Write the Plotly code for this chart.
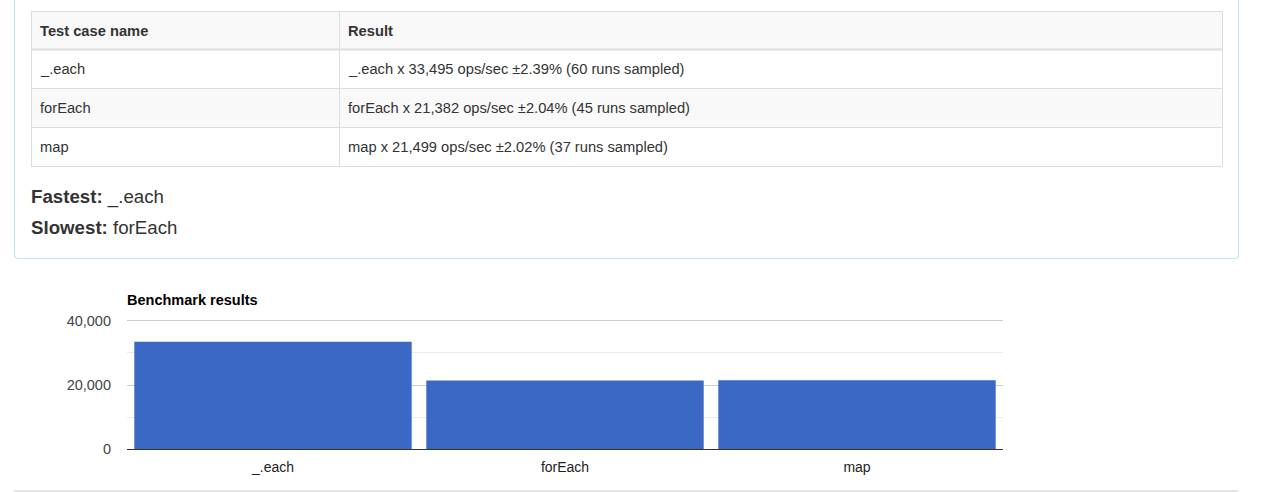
import plotly.graph_objects as go

# ---- data ----
names = ["_.each", "forEach", "map"]
ops_per_sec = [33495, 21382, 21499]
rme_pct = [2.39, 2.04, 2.02]
runs_sampled = [60, 45, 37]
y_tick_vals = [0, 20000, 40000]
y_tick_text = ["0", "20,000", "40,000"]
header_labels = ["Test case name", "Result"]
chart_title = "Benchmark results"

W, H = 1280, 492
FONT = "Liberation Sans, Arial, Helvetica, sans-serif"


def px(x):
    return x / W


def py(y):
    return 1 - y / H


results = [f"{n} x {o:,} ops/sec \u00b1{r:.2f}% ({s} runs sampled)"
           for n, o, r, s in zip(names, ops_per_sec, rme_pct, runs_sampled)]
fastest = names[ops_per_sec.index(max(ops_per_sec))]
slowest = names[ops_per_sec.index(min(ops_per_sec))]

fig = go.Figure()

# ---- bar chart ----
fig.add_trace(go.Bar(
    x=names, y=ops_per_sec, marker=dict(color="#3c68c5", line=dict(width=0)),
    hoverinfo="x+y", showlegend=False,
))

# axis geometry: zero at y=449, 40,000 gridline at y=320.8; a little headroom
# above the top tick so its gridline is drawn inside the plot area
y_max = 40400
zero_px, top_tick_px = 449.3, 320.8
top_px = zero_px - (zero_px - top_tick_px) * y_max / y_tick_vals[-1]

fig.update_layout(
    width=W, height=H, autosize=False, showlegend=False,
    margin=dict(l=0, r=0, t=0, b=0, pad=0, autoexpand=False),
    paper_bgcolor="white", plot_bgcolor="white",
    bargap=0.05,
    font=dict(family=FONT, color="#444444"),
    xaxis=dict(domain=[px(127), px(1003)], showline=True, linecolor="#333333",
               linewidth=1, showgrid=False, ticks="", ticklabelstandoff=5,
               automargin=False, zeroline=False,
               tickfont=dict(size=14, color="#222222"), fixedrange=True),
    yaxis=dict(domain=[py(zero_px), py(top_px)], range=[0, y_max],
               tickvals=y_tick_vals, ticktext=y_tick_text,
               showgrid=True, gridcolor="#cccccc", zeroline=False,
               minor=dict(dtick=10000, showgrid=True, gridcolor="#ebebeb"),
               ticklabelstandoff=15, automargin=False,
               tickfont=dict(size=14.5, color="#444444"),
               fixedrange=True),
)

# ---- results table (page layout) ----
col_edges = [31, 339, 1222]
row_edges = [11, 49, 88, 127, 166]
row_fills = ["#f9f9f9", "#ffffff", "#f9f9f9", "#ffffff"]
table_rows = [[f"<b>{h}</b>" for h in header_labels]] + [list(r) for r in zip(names, results)]

for i, row in enumerate(table_rows):
    y0, y1 = row_edges[i], row_edges[i + 1]
    fig.add_shape(type="rect", xref="paper", yref="paper",
                  x0=px(col_edges[0]), x1=px(col_edges[-1]), y0=py(y1), y1=py(y0),
                  fillcolor=row_fills[i], line=dict(width=0), layer="below")
    for j, txt in enumerate(row):
        fig.add_annotation(xref="paper", yref="paper",
                           x=px(col_edges[j] + 7), y=py((y0 + y1) / 2 + 0.5),
                           xanchor="left", yanchor="middle", showarrow=False,
                           text=txt, font=dict(family=FONT, size=14.7, color="#333333"))

for k, yy in enumerate(row_edges):
    fig.add_shape(type="line", xref="paper", yref="paper",
                  x0=px(col_edges[0]), x1=px(col_edges[-1]),
                  y0=py(yy + 0.5), y1=py(yy + 0.5),
                  line=dict(color="#dddddd", width=2 if k == 1 else 1))
for xx in col_edges:
    fig.add_shape(type="line", xref="paper", yref="paper",
                  x0=px(xx + 0.5), x1=px(xx + 0.5),
                  y0=py(row_edges[-1] + 0.5), y1=py(row_edges[0] + 0.5),
                  line=dict(color="#dddddd", width=1))

# ---- page decoration: panel border (rounded bottom corners) and bottom rule ----
pl, pr, pb, pt, rad = 14.5, 1238.5, 258.5, -10, 4
panel_path = (f"M {px(pl)},{py(pt)} L {px(pl)},{py(pb - rad)} "
              f"Q {px(pl)},{py(pb)} {px(pl + rad)},{py(pb)} "
              f"L {px(pr - rad)},{py(pb)} "
              f"Q {px(pr)},{py(pb)} {px(pr)},{py(pb - rad)} "
              f"L {px(pr)},{py(pt)}")
fig.add_shape(type="path", xref="paper", yref="paper", path=panel_path,
              line=dict(color="#bce8f1", width=1.2), layer="below")
fig.add_shape(type="line", xref="paper", yref="paper",
              x0=px(14), x1=px(1238), y0=py(491), y1=py(491),
              line=dict(color="#dddddd", width=1.5))

# ---- summary and chart title ----
fig.add_annotation(xref="paper", yref="paper", x=px(29), y=py(197),
                   xanchor="left", yanchor="middle", showarrow=False,
                   text=f"<b>Fastest:</b> {fastest}",
                   font=dict(family=FONT, size=18.7, color="#333333"))
fig.add_annotation(xref="paper", yref="paper", x=px(29), y=py(228),
                   xanchor="left", yanchor="middle", showarrow=False,
                   text=f"<b>Slowest:</b> {slowest}",
                   font=dict(family=FONT, size=18.7, color="#333333"))
fig.add_annotation(xref="paper", yref="paper", x=px(125), y=py(300),
                   xanchor="left", yanchor="middle", showarrow=False,
                   text=f"<b>{chart_title}</b>",
                   font=dict(family=FONT, size=14.5, color="#000000"))

fig.write_html(
    "out.html",
    config=dict(displayModeBar=False),
    post_script="document.body.style.margin='0';document.body.style.overflow='hidden';",
)
